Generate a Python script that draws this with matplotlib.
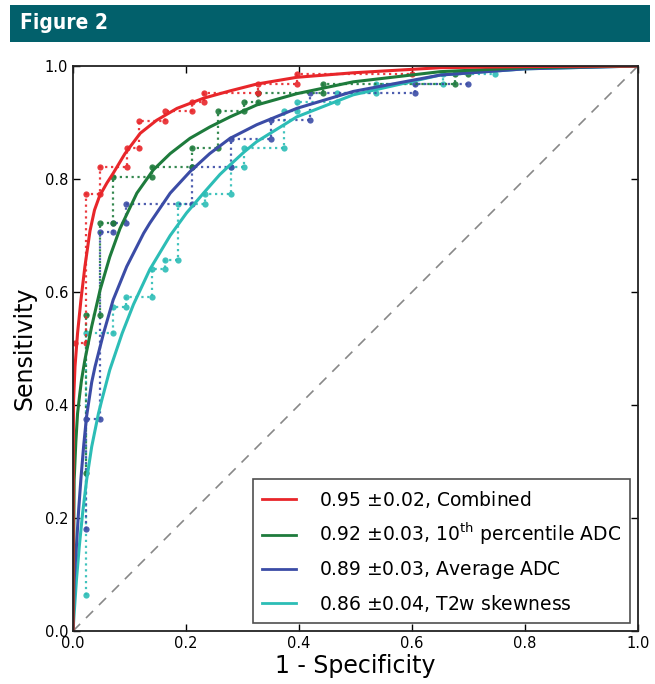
import matplotlib
matplotlib.use("Agg")
import matplotlib.pyplot as plt
from matplotlib.lines import Line2D
from matplotlib.patches import Rectangle

# colours of the four classifiers
RED = '#e8262a'
GREEN = '#1e7b3c'
BLUE = '#3b4ca6'
CYAN = '#2cbdb6'

labels = [r'0.95 $\pm$0.02, Combined',
          r'0.92 $\pm$0.03, 10$^{\rm th}$ percentile ADC',
          r'0.89 $\pm$0.03, Average ADC',
          r'0.86 $\pm$0.04, T2w skewness']

# empirical ROC steps (1 - specificity, sensitivity)
red_fpr = [0.004, 0.023, 0.023, 0.047, 0.047, 0.095, 0.095, 0.117, 0.117, 0.163, 0.163,
           0.210, 0.210, 0.232, 0.232, 0.327, 0.327, 0.397, 0.397, 0.600]
red_tpr = [0.509, 0.509, 0.773, 0.773, 0.822, 0.822, 0.855, 0.855, 0.903, 0.903, 0.920,
           0.920, 0.937, 0.937, 0.953, 0.953, 0.969, 0.969, 0.986, 0.986]

green_fpr = [0.023, 0.023, 0.047, 0.047, 0.070, 0.070, 0.140, 0.140, 0.210, 0.210, 0.257,
             0.257, 0.303, 0.303, 0.327, 0.327, 0.443, 0.443, 0.677, 0.677, 0.700]
green_tpr = [0.279, 0.559, 0.559, 0.723, 0.723, 0.804, 0.804, 0.822, 0.822, 0.854, 0.854,
             0.920, 0.920, 0.937, 0.937, 0.953, 0.953, 0.969, 0.969, 0.986, 0.986]

blue_fpr = [0.023, 0.023, 0.047, 0.047, 0.070, 0.070, 0.094, 0.094, 0.210, 0.210, 0.280,
            0.280, 0.350, 0.350, 0.420, 0.420, 0.605, 0.605, 0.700]
blue_tpr = [0.180, 0.376, 0.376, 0.707, 0.707, 0.723, 0.723, 0.756, 0.756, 0.822, 0.822,
            0.870, 0.870, 0.904, 0.904, 0.953, 0.953, 0.969, 0.969]

cyan_fpr = [0.023, 0.023, 0.070, 0.070, 0.094, 0.094, 0.140, 0.140, 0.163, 0.163, 0.186,
            0.186, 0.234, 0.234, 0.280, 0.280, 0.303, 0.303, 0.373, 0.373, 0.397, 0.397,
            0.467, 0.467, 0.537, 0.537, 0.654, 0.654, 0.747]
cyan_tpr = [0.064, 0.527, 0.527, 0.574, 0.574, 0.591, 0.591, 0.640, 0.640, 0.657, 0.657,
            0.756, 0.756, 0.773, 0.773, 0.822, 0.822, 0.854, 0.854, 0.920, 0.920, 0.937,
            0.937, 0.953, 0.953, 0.969, 0.969, 0.986, 0.986]

# fitted smooth curves
red_fit_x = [0, 0.0003, 0.001, 0.0035, 0.008, 0.014, 0.021, 0.030, 0.038, 0.047, 0.060,
             0.071, 0.092, 0.119, 0.148, 0.184, 0.231, 0.278, 0.325, 0.396, 0.496, 0.650,
             0.800, 1.0]
red_fit_y = [0, 0.30, 0.409, 0.468, 0.527, 0.586, 0.645, 0.708, 0.745, 0.770, 0.793,
             0.810, 0.845, 0.881, 0.904, 0.925, 0.943, 0.956, 0.968, 0.980, 0.988, 0.997,
             0.999, 1.0]

green_fit_x = [0, 0.002, 0.005, 0.008, 0.012, 0.015, 0.021, 0.033, 0.048, 0.065, 0.083,
               0.113, 0.142, 0.172, 0.207, 0.242, 0.278, 0.325, 0.396, 0.496, 0.650,
               0.800, 1.0]
green_fit_y = [0, 0.267, 0.335, 0.385, 0.420, 0.444, 0.480, 0.539, 0.604, 0.662, 0.712,
               0.775, 0.816, 0.845, 0.872, 0.892, 0.910, 0.931, 0.951, 0.972, 0.990,
               0.997, 1.0]

blue_fit_x = [0, 0.002, 0.006, 0.010, 0.014, 0.019, 0.024, 0.033, 0.039, 0.054, 0.071,
              0.095, 0.125, 0.136, 0.172, 0.207, 0.242, 0.278, 0.325, 0.396, 0.496,
              0.650, 0.800, 1.0]
blue_fit_y = [0, 0.090, 0.150, 0.215, 0.270, 0.330, 0.380, 0.440, 0.468, 0.527, 0.586,
              0.645, 0.704, 0.722, 0.775, 0.813, 0.845, 0.872, 0.896, 0.925, 0.955,
              0.984, 0.995, 1.0]

cyan_fit_x = [0, 0.002, 0.006, 0.011, 0.017, 0.024, 0.033, 0.045, 0.051, 0.065, 0.087,
              0.107, 0.136, 0.172, 0.201, 0.231, 0.260, 0.278, 0.303, 0.325, 0.396,
              0.496, 0.650, 0.800, 1.0]
cyan_fit_y = [0, 0.031, 0.090, 0.149, 0.209, 0.267, 0.326, 0.385, 0.409, 0.462, 0.527,
              0.578, 0.640, 0.700, 0.740, 0.775, 0.808, 0.825, 0.848, 0.866, 0.910,
              0.949, 0.984, 0.995, 1.0]

ticks = [0.0, 0.2, 0.4, 0.6, 0.8, 1.0]

series = [
    (RED, red_fpr, red_tpr, red_fit_x, red_fit_y),
    (GREEN, green_fpr, green_tpr, green_fit_x, green_fit_y),
    (BLUE, blue_fpr, blue_tpr, blue_fit_x, blue_fit_y),
    (CYAN, cyan_fpr, cyan_tpr, cyan_fit_x, cyan_fit_y),
]

fig = plt.figure(figsize=(6.55, 6.84), dpi=100)

# header bar
fig.patches.append(Rectangle((0.015, 0.9386), 0.977, 0.0541, transform=fig.transFigure,
                             facecolor='#02606b', edgecolor='none'))
fig.text(0.030, 0.966, 'Figure 2', color='white', fontsize=15, fontweight='bold',
         fontstretch='condensed', family=['DejaVu Sans'], va='center', ha='left')

ax = fig.add_axes([0.1115, 0.0775, 0.8625, 0.826])

ax.plot([0, 1], [0, 1], color='#888888', linestyle=(0, (6, 5)), linewidth=1.2)

for color, fx, fy, sx, sy in reversed(series):
    ax.plot(fx, fy, color=color, linestyle=':', linewidth=1.6, marker='o',
            markersize=4.5, markeredgewidth=0, alpha=0.9)
for color, fx, fy, sx, sy in reversed(series):
    ax.plot(sx, sy, color=color, linewidth=2.2, solid_joinstyle='round')

ax.set_xlim(0, 1)
ax.set_ylim(0, 1)
ax.set_xticks(ticks)
ax.set_yticks(ticks)
ax.set_xticklabels([f'{t:.1f}' for t in ticks])
ax.set_yticklabels([f'{t:.1f}' for t in ticks])
ax.tick_params(direction='in', top=True, right=True, labelsize=10.5, length=5, width=1)
for s in ax.spines.values():
    s.set_linewidth(1.3)
    s.set_color('#222222')

ax.set_xlabel('1 - Specificity', fontsize=17, labelpad=2)
ax.set_ylabel('Sensitivity', fontsize=17, labelpad=6)

handles = [Line2D([0], [0], color=c, linewidth=2) for c, *_ in series]
leg = ax.legend(handles, labels, loc='lower right', fontsize=13.5, frameon=True,
                fancybox=False, borderpad=0.5, handlelength=1.8, handletextpad=1.2,
                labelspacing=0.62, borderaxespad=0, bbox_to_anchor=(0.986, 0.014))
leg.get_frame().set_edgecolor('#222222')
leg.get_frame().set_linewidth(1.2)

fig.savefig('out.png', dpi=100)
